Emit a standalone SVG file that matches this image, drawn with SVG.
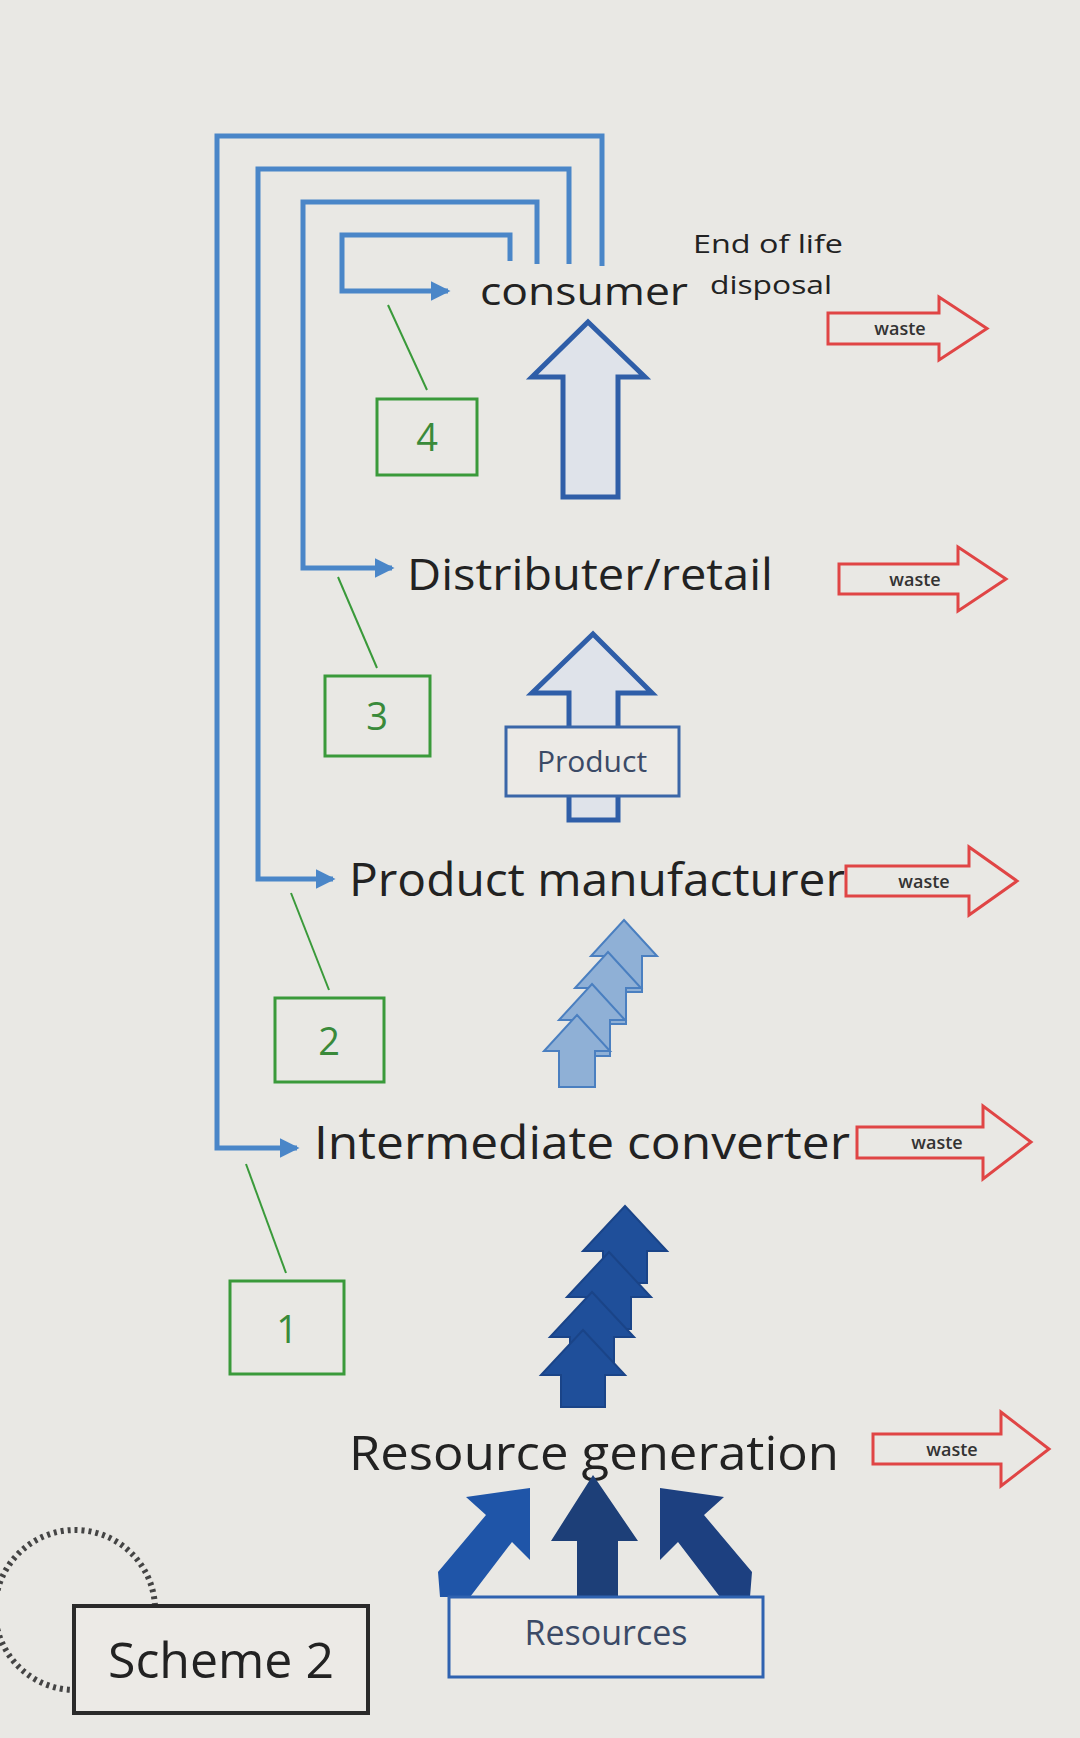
<svg xmlns="http://www.w3.org/2000/svg" width="1080" height="1738" viewBox="0 0 1080 1738">
<defs>
<style>
.loop{fill:none;stroke:#4a86c8;stroke-width:5}
.lbl{font-family:"Open Sans","Liberation Sans",sans-serif;fill:#222}
.gbox{fill:none;stroke:#3a9a3a;stroke-width:3}
.gline{stroke:#3a9a3a;stroke-width:2}
.gtxt{font-family:"Open Sans","Liberation Sans",sans-serif;font-size:38px;fill:#3a8a3a;text-anchor:middle}
.waste{fill:none;stroke:#e04545;stroke-width:3}
.wtxt{font-family:"Open Sans","Liberation Sans",sans-serif;font-size:18px;fill:#333;text-anchor:middle;font-weight:600}
.la{fill:#8fb0d6;stroke:#4a7fc0;stroke-width:2}
.da{fill:#1f4f9a;stroke:#1a4488;stroke-width:2}
</style>
<marker id="ah" markerWidth="4" markerHeight="4" refX="3.5" refY="2" orient="auto" markerUnits="strokeWidth"><path d="M0,0 L4,2 L0,4 Z" fill="#4a86c8"/></marker>
<path id="lt" d="M0,0 L33,36 L18,36 L18,72 L-18,72 L-18,36 L-33,36 Z"/>
<path id="dt" d="M0,0 L42,45 L22,45 L22,77 L-22,77 L-22,45 L-42,45 Z"/>
</defs>
<rect width="1080" height="1738" fill="#e9e8e4"/>
<g id="connectors">
<path class="loop" marker-end="url(#ah)" d="M602,266 V136 H217 V1148 H297"/>
<path class="loop" marker-end="url(#ah)" d="M569,264 V169 H258 V879 H333"/>
<path class="loop" marker-end="url(#ah)" d="M537,264 V202 H303 V568 H392"/>
<path class="loop" marker-end="url(#ah)" d="M510,261 V235 H342 V291 H448"/>
<line class="gline" x1="388" y1="305" x2="427" y2="390"/>
<line class="gline" x1="338" y1="577" x2="377" y2="668"/>
<line class="gline" x1="291" y1="893" x2="329" y2="990"/>
<line class="gline" x1="246" y1="1164" x2="286" y2="1273"/>
</g>
<g id="consumer"><text class="lbl" x="480" y="305" font-size="38" textLength="208" lengthAdjust="spacingAndGlyphs">consumer</text></g>
<g id="eol"><text class="lbl" x="693" y="253" font-size="26" textLength="150" lengthAdjust="spacingAndGlyphs">End of life</text>
<text class="lbl" x="710" y="294" font-size="26" textLength="122" lengthAdjust="spacingAndGlyphs">disposal</text></g>
<g id="distributer"><text class="lbl" x="407" y="590" font-size="44" textLength="366" lengthAdjust="spacingAndGlyphs">Distributer/retail</text></g>
<g id="manufacturer"><text class="lbl" x="349" y="896" font-size="46" textLength="496" lengthAdjust="spacingAndGlyphs">Product manufacturer</text></g>
<g id="converter"><text class="lbl" x="314" y="1159" font-size="46" textLength="536" lengthAdjust="spacingAndGlyphs">Intermediate converter</text></g>
<g id="generation"><text class="lbl" x="349" y="1470" font-size="48" textLength="490" lengthAdjust="spacingAndGlyphs">Resource generation</text></g>
<g id="box4"><rect class="gbox" x="377" y="399" width="100" height="76"/><text class="gtxt" x="427" y="451">4</text></g>
<g id="box3"><rect class="gbox" x="325" y="676" width="105" height="80"/><text class="gtxt" x="377" y="730">3</text></g>
<g id="box2"><rect class="gbox" x="275" y="998" width="109" height="84"/><text class="gtxt" x="329" y="1055">2</text></g>
<g id="box1"><rect class="gbox" x="230" y="1281" width="114" height="93"/><text class="gtxt" x="287" y="1343">1</text></g>
<g id="wastes">
<path class="waste" d="M828,313 H939 V297 L987,328.5 L939,360 V344 H828 Z"/><text class="wtxt" x="900" y="335">waste</text>
<path class="waste" d="M839,564 H958 V547 L1006,579 L958,611 V594 H839 Z"/><text class="wtxt" x="915" y="586">waste</text>
<path class="waste" d="M846,866 H969 V847 L1017,881 L969,915 V896 H846 Z"/><text class="wtxt" x="924" y="888">waste</text>
<path class="waste" d="M857,1127 H983 V1106 L1031,1142 L983,1179 V1158 H857 Z"/><text class="wtxt" x="937" y="1149">waste</text>
<path class="waste" d="M873,1434 H1001 V1412 L1049,1449 L1001,1486 V1464 H873 Z"/><text class="wtxt" x="952" y="1456">waste</text>
</g>
<g id="big-arrow"><path d="M588,322 L645,377 L618,377 L618,497 L563,497 L563,377 L532,377 Z" fill="#dfe3ea" stroke="#2f5ea8" stroke-width="5"/></g>
<g id="product">
<path d="M593,634 L652,693 L618,693 L618,820 L569,820 L569,693 L532,693 Z" fill="#dfe3ea" stroke="#2f5ea8" stroke-width="5"/>
<rect x="506" y="727" width="173" height="69" fill="#eceae6" stroke="#3a66a8" stroke-width="3"/>
<text x="592" y="772" font-family="Open Sans, Liberation Sans, sans-serif" font-size="30" fill="#3b4a66" text-anchor="middle">Product</text>
</g>
<g id="light-arrows">
<use href="#lt" x="624" y="920" class="la"/>
<use href="#lt" x="608" y="952" class="la"/>
<use href="#lt" x="592" y="984" class="la"/>
<use href="#lt" x="577" y="1015" class="la"/>
</g>
<g id="dark-arrows">
<use href="#dt" x="625" y="1206" class="da"/>
<use href="#dt" x="609" y="1252" class="da"/>
<use href="#dt" x="592" y="1292" class="da"/>
<use href="#dt" x="583" y="1330" class="da"/>
</g>
<g id="resources">
<path d="M593,1475 L638,1541 L618,1541 L618,1597 L577,1597 L577,1541 L551,1541 Z" fill="#1d3f78"/>
<path d="M530,1488 L530,1560 L512,1542 L470,1597 L440,1597 L438,1572 L486,1515 L466,1497 Z" fill="#1f55a8"/>
<path d="M660,1488 L660,1560 L678,1542 L720,1597 L750,1597 L752,1572 L704,1515 L724,1497 Z" fill="#1d4080"/>
<rect x="449" y="1597" width="314" height="80" fill="#eceae6" stroke="#2f62b0" stroke-width="3"/>
<text x="606" y="1645" font-family="Open Sans, Liberation Sans, sans-serif" font-size="34" fill="#3b4a66" text-anchor="middle">Resources</text>
</g>
<g id="scheme2">
<path d="M155,1606 A80,80 0 1 0 74,1690" fill="none" stroke="#444" stroke-width="6" stroke-dasharray="3 4"/>
<rect x="74" y="1606" width="294" height="107" fill="#eceae6" stroke="#2a2a2a" stroke-width="4"/>
<text x="221" y="1678" font-family="Open Sans, Liberation Sans, sans-serif" font-size="50" fill="#222" text-anchor="middle">Scheme 2</text>
</g>
</svg>
